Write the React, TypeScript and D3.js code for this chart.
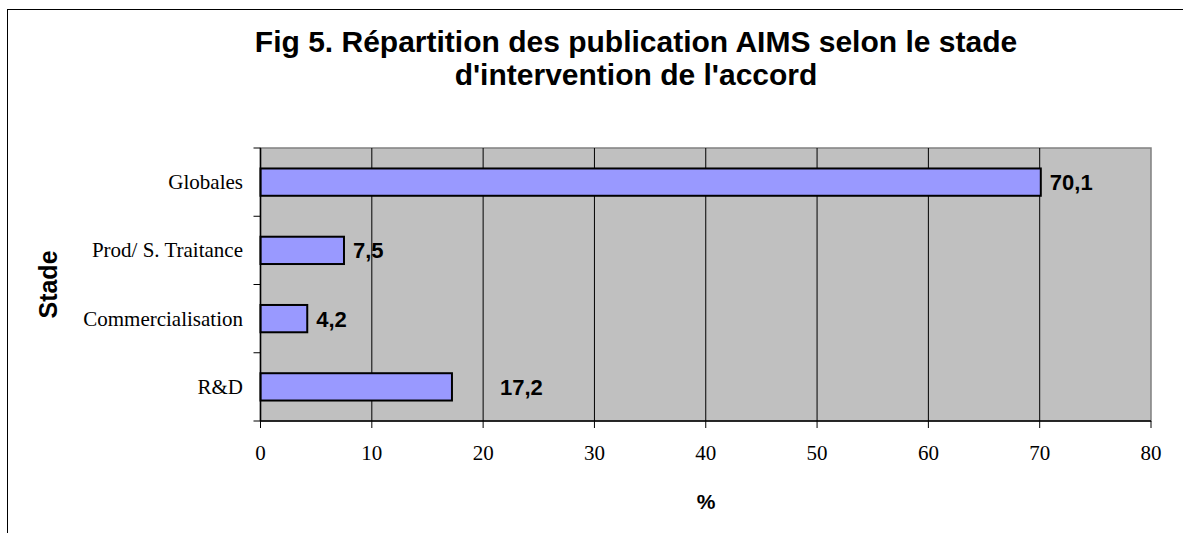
import React from "react";
import * as d3 from "d3";

const categories = ["Globales", "Prod/ S. Traitance", "Commercialisation", "R&D"];
const values = [70.1, 7.5, 4.2, 17.2];
const valueLabels = ["70,1", "7,5", "4,2", "17,2"];
const xTicks = [0, 10, 20, 30, 40, 50, 60, 70, 80];
const titleLines = ["Fig 5. Répartition des publication AIMS selon le stade", "d'intervention de l'accord"];
// extra horizontal shift of each value label from its bar end (px)
const labelShift = [9, 9, 9, 48];

const W = 1183;
const H = 533;
const plot = { left: 260.5, right: 1151, top: 148, bottom: 421 };

export default function App() {
  const x = d3.scaleLinear().domain([0, 80]).range([plot.left, plot.right]);
  const y = d3
    .scaleBand<string>()
    .domain(categories)
    .range([plot.top, plot.bottom])
    .paddingInner(0.6)
    .paddingOuter(0.3);
  const step = y.step();
  const boundaries = d3.range(categories.length + 1).map((i) => plot.top + i * step);
  const serif = "'Liberation Serif', 'Times New Roman', serif";
  const sans = "'Liberation Sans', Arial, sans-serif";

  return (
    <svg
      width={W}
      height={H}
      style={{ position: "absolute", left: 0, top: 0, background: "#fff" }}
    >
      {/* outer chart border */}
      <rect x={7.5} y={9.5} width={W + 20} height={H + 20} fill="#fff" stroke="#000" strokeWidth={1} />

      {/* title */}
      {titleLines.map((t, i) => (
        <text
          key={i}
          x={636}
          y={52 + i * 33}
          textAnchor="middle"
          fontFamily={sans}
          fontWeight="bold"
          fontSize={30}
          fill="#000"
        >
          {t}
        </text>
      ))}

      {/* plot background */}
      <rect
        x={plot.left}
        y={plot.top}
        width={plot.right - plot.left}
        height={plot.bottom - plot.top}
        fill="#C0C0C0"
        stroke="#808080"
        strokeWidth={1.5}
      />

      {/* gridlines */}
      {xTicks.slice(1, -1).map((t) => (
        <line key={t} x1={x(t)} x2={x(t)} y1={plot.top} y2={plot.bottom} stroke="#000" strokeWidth={1} />
      ))}

      {/* bars */}
      {categories.map((c, i) => (
        <rect
          key={c}
          x={x(0)}
          y={y(c)!}
          width={x(values[i]) - x(0)}
          height={y.bandwidth()}
          fill="#9999FF"
          stroke="#000"
          strokeWidth={2}
        />
      ))}

      {/* value labels */}
      {categories.map((c, i) => (
        <text
          key={c}
          x={x(values[i]) + labelShift[i]}
          y={y(c)! + y.bandwidth() / 2}
          dy="0.36em"
          fontFamily={sans}
          fontWeight="bold"
          fontSize={22}
          fill="#000"
        >
          {valueLabels[i]}
        </text>
      ))}

      {/* axes */}
      <line x1={plot.left} x2={plot.left} y1={plot.top} y2={plot.bottom} stroke="#000" strokeWidth={1.5} />
      <line x1={plot.left} x2={plot.right} y1={plot.bottom} y2={plot.bottom} stroke="#000" strokeWidth={1.5} />
      {boundaries.map((b, i) => (
        <line key={i} x1={plot.left - 7} x2={plot.left} y1={b} y2={b} stroke="#000" strokeWidth={1} />
      ))}
      {xTicks.map((t) => (
        <g key={t}>
          <line x1={x(t)} x2={x(t)} y1={plot.bottom} y2={plot.bottom + 7} stroke="#000" strokeWidth={1} />
          <text
            x={x(t)}
            y={460}
            textAnchor="middle"
            fontFamily={serif}
            fontSize={21}
            fill="#000"
          >
            {t}
          </text>
        </g>
      ))}
      {categories.map((c) => (
        <text
          key={c}
          x={243}
          y={y(c)! + y.bandwidth() / 2}
          dy="0.33em"
          textAnchor="end"
          fontFamily={serif}
          fontSize={21}
          fill="#000"
        >
          {c}
        </text>
      ))}

      {/* axis titles */}
      <text x={706} y={509} textAnchor="middle" fontFamily={sans} fontWeight="bold" fontSize={21} fill="#000">
        %
      </text>
      <text
        transform={`translate(57, ${(plot.top + plot.bottom) / 2}) rotate(-90)`}
        textAnchor="middle"
        fontFamily={sans}
        fontWeight="bold"
        fontSize={25}
        fill="#000"
      >
        Stade
      </text>
    </svg>
  );
}
